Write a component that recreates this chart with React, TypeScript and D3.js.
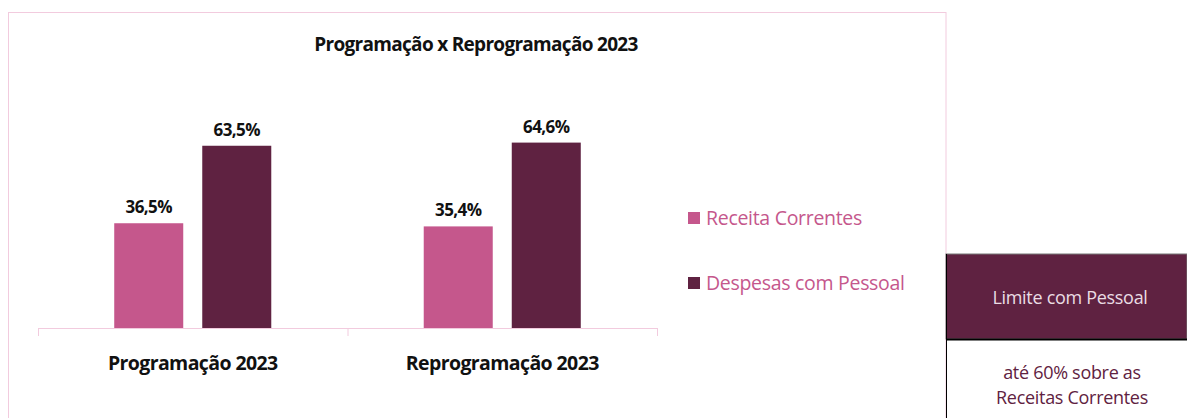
import React from 'react'
import * as d3 from 'd3'

const categories = ['Programação 2023', 'Reprogramação 2023']
const seriesNames = ['Receita Correntes', 'Despesas com Pessoal']
const receitaValues = [36.5, 35.4]
const despesaValues = [63.5, 64.6]
const seriesColors = ['#c5578c', '#5f2241']
const chartTitle = 'Programação x Reprogramação 2023'
const noteHeader = 'Limite com Pessoal'
const noteLines = ['até 60% sobre as', 'Receitas Correntes']

const fmt = (v: number) => d3.format('.1f')(v).replace('.', ',') + '%'

export default function App() {
  const width = 1187
  const height = 418
  const font = "'Open Sans', 'Noto Sans', sans-serif"

  const x0 = d3.scaleBand<string>().domain(categories).range([38, 657])
  const x1 = d3.scaleBand<string>()
    .domain(seriesNames)
    .range([0, x0.bandwidth()])
    .paddingInner(0.216)
    .paddingOuter(0.866)
  const y = d3.scaleLinear().domain([0, 100]).range([328, 41])

  const rows = categories.map((c, i) => ({
    cat: c,
    values: [receitaValues[i], despesaValues[i]],
  }))

  return (
    <svg width={width} height={height} style={{ position: 'absolute', left: 0, top: 0, background: '#fff' }} fontFamily={font}>
      {/* chart frame */}
      <rect x={8.5} y={12.5} width={937.5} height={420} fill="#fff" stroke="#f2cbde" strokeWidth={1} />

      <text x={476} y={51} textAnchor="middle" fontSize={19} fontWeight="bold" fill="#111" letterSpacing={-0.7}>
        {chartTitle}
      </text>

      {rows.map(r => (
        <g key={r.cat} transform={`translate(${x0(r.cat)},0)`}>
          {r.values.map((v, j) => (
            <g key={seriesNames[j]}>
              <rect
                x={x1(seriesNames[j])}
                y={y(v)}
                width={x1.bandwidth()}
                height={y(0) - y(v)}
                fill={seriesColors[j]}
              />
              <text
                x={(x1(seriesNames[j]) || 0) + x1.bandwidth() / 2}
                y={y(v) - 10}
                textAnchor="middle"
                fontSize={17}
                fontWeight="bold"
                fill="#111"
                letterSpacing={-0.6}
              >
                {fmt(v)}
              </text>
            </g>
          ))}
          <text
            x={x0.bandwidth() / 2}
            y={370}
            textAnchor="middle"
            fontSize={19.5}
            fontWeight="bold"
            fill="#111"
            letterSpacing={-0.6}
          >
            {r.cat}
          </text>
        </g>
      ))}

      {/* x axis */}
      <line x1={38} x2={657} y1={y(0) + 0.5} y2={y(0) + 0.5} stroke="#f2cbde" />
      {[...categories.map(c => x0(c) || 0), 657].map((t, i) => (
        <line key={i} x1={t + 0.5} x2={t + 0.5} y1={y(0)} y2={y(0) + 8} stroke="#f2cbde" />
      ))}

      {/* legend */}
      {seriesNames.map((s, i) => (
        <g key={s} transform={`translate(688,${212 + i * 65})`}>
          <rect x={0} y={0} width={12} height={12} fill={seriesColors[i]} />
          <text x={18} y={13} fontSize={19.5} fill="#c5578c" letterSpacing={-0.3}>{s}</text>
        </g>
      ))}

      {/* note box */}
      <rect x={946} y={254} width={241} height={85} fill="#5f2241" stroke="#777" strokeWidth={1} />
      <line x1={946} x2={1187} y1={339.5} y2={339.5} stroke="#000" strokeWidth={2} />
      <line x1={946.5} x2={946.5} y1={254} y2={418} stroke="#000" strokeWidth={1} />
      <text x={1070} y={304} textAnchor="middle" fontSize={18} fill="#eadde4" letterSpacing={-0.3}>{noteHeader}</text>
      {noteLines.map((l, i) => (
        <text key={l} x={1072} y={379 + i * 25} textAnchor="middle" fontSize={18} fill="#5f2241" letterSpacing={-0.3}>{l}</text>
      ))}
    </svg>
  )
}
